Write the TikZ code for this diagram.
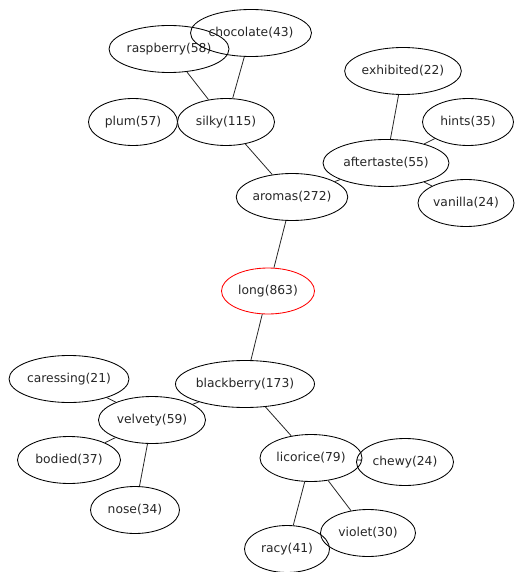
\documentclass[tikz,border=0pt]{standalone}
\usepackage{fontspec}
\setsansfont{DejaVu Sans}
\usetikzlibrary{shapes.geometric}

\tikzset{
  word/.style={ellipse, draw=black, line width=0.85pt, inner sep=0pt,
    minimum height=47, text=black!85, font=\sffamily\fontsize{12.3}{12.3}\selectfont},
  root/.style={word, draw=red},
  link/.style={line width=0.8pt, black!85}
}

\begin{document}
\begin{tikzpicture}[x=1pt,y=-1pt]
\useasboundingbox (0,0) rectangle (514,572);
% top branch
\node[word, minimum width=120] (raspberry) at (169,49) {raspberry(58)};
\node[word, minimum width=121] (chocolate) at (251,33) {chocolate(43)};
\node[word, minimum width=89] (plum) at (133,122) {plum(57)};
\node[word, minimum width=97] (silky) at (226,122) {silky(115)};
\node[word, minimum width=110] (aromas) at (292,197) {aromas(272)};
\node[word, minimum width=113] (exhibited) at (403,71) {exhibited(22)};
\node[word, minimum width=91] (hints) at (468,122) {hints(35)};
\node[word, minimum width=126] (aftertaste) at (386,163) {aftertaste(55)};
\node[word, minimum width=96] (vanilla) at (466,203) {vanilla(24)};
% centre word
\node[root, minimum width=93, minimum height=46] (long) at (268,291) {long(863)};
% bottom branch
\node[word, minimum width=134] (blackberry) at (245,384) {blackberry(173)};
\node[word, minimum width=120] (caressing) at (69,379) {caressing(21)};
\node[word, minimum width=107] (velvety) at (152,420) {velvety(59)};
\node[word, minimum width=103] (bodied) at (69,460) {bodied(37)};
\node[word, minimum width=89] (nose) at (135,510) {nose(34)};
\node[word, minimum width=102] (licorice) at (311,458) {licorice(79)};
\node[word, minimum width=97] (chewy) at (405,462) {chewy(24)};
\node[word, minimum width=95] (violet) at (368,533) {violet(30)};
\node[word, minimum width=85] (racy) at (287,549) {racy(41)};

\draw[link] (raspberry)--(silky);
\draw[link] (chocolate)--(silky);
\draw[link] (plum)--(silky);
\draw[link] (silky)--(aromas);
\draw[link] (aromas)--(aftertaste);
\draw[link] (exhibited)--(aftertaste);
\draw[link] (hints)--(aftertaste);
\draw[link] (vanilla)--(aftertaste);
\draw[link] (aromas)--(long);
\draw[link] (long)--(blackberry);
\draw[link] (blackberry)--(velvety);
\draw[link] (caressing)--(velvety);
\draw[link] (bodied)--(velvety);
\draw[link] (nose)--(velvety);
\draw[link] (blackberry)--(licorice);
\draw[link] (licorice)--(chewy);
\draw[link] (licorice)--(racy);
\draw[link] (licorice)--(violet);
\end{tikzpicture}
\end{document}
